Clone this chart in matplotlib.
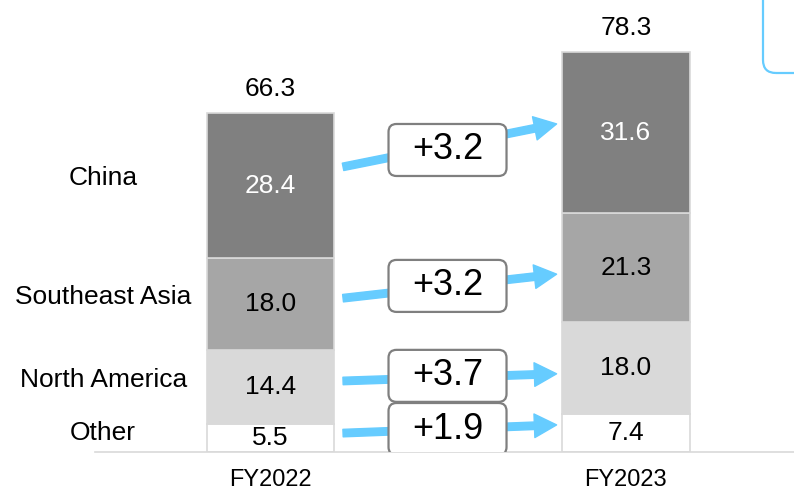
import numpy as np
import matplotlib
matplotlib.use("Agg")
import matplotlib.pyplot as plt
from matplotlib.patches import FancyBboxPatch, FancyArrowPatch
from matplotlib.transforms import ScaledTranslation

plt.rcParams['font.family'] = ['Liberation Sans', 'DejaVu Sans']

###Data (bottom to top)
years = ["FY2022", "FY2023"]
regions = ["Other", "North America", "Southeast Asia", "China"]
fy2022 = [5.5, 14.4, 18.0, 28.4]
fy2023 = [7.4, 18.0, 21.3, 31.6]
totals = [66.3, 78.3]
deltas = ["+1.9", "+3.7", "+3.2", "+3.2"]

###Layout of annotations (data units on y)
arrow_start_y = [3.7, 13.9, 30.1, 55.8]
arrow_end_y = [5.3, 15.3, 34.8, 64.2]
box_y = [4.5, 14.9, 32.5, 59.1]
label_y = [3.7, 14.1, 30.3, 53.6]

colors = ["#ffffff", "#d9d9d9", "#a6a6a6", "#808080"]
text_colors = ["black", "black", "black", "white"]
arrow_col = "#66ccff"

fig = plt.figure(figsize=(7.94, 4.91), dpi=100)
ax = fig.add_axes([95/794, 39/491, 699/794, 452/491])

x = np.arange(len(years))
width = 0.358
bottoms = np.zeros(2)
for i, reg in enumerate(regions):
	vals = np.array([fy2022[i], fy2023[i]])
	ax.bar(x, vals, width, bottom=bottoms, color=colors[i], edgecolor="#d9d9d9", linewidth=1.2, zorder=2)
	for j in range(2):
		ax.text(x[j], bottoms[j] + vals[j]/2, "%.1f" % vals[j], ha="center", va="center",
				fontsize=19, color=text_colors[i], zorder=3)
	bottoms += vals

for j in range(2):
	ax.text(x[j], totals[j], "%.1f" % totals[j], ha="center", va="bottom", fontsize=19,
			transform=ax.transData + ScaledTranslation(0, 0.12, fig.dpi_scale_trans))

###Region labels on the left
for i, reg in enumerate(regions):
	ax.text(-0.471, label_y[i], reg, ha="center", va="center", fontsize=19)

###Arrows and delta boxes
for i in range(len(regions)):
	arr = FancyArrowPatch((0.204, arrow_start_y[i]), (0.805, arrow_end_y[i]),
						  arrowstyle="simple,head_length=0.8,head_width=0.85,tail_width=0.27",
						  mutation_scale=20, color=arrow_col, shrinkA=0, shrinkB=0, zorder=4)
	ax.add_patch(arr)
	tr = fig.dpi_scale_trans + ScaledTranslation(0.498, box_y[i], ax.transData)
	box = FancyBboxPatch((-0.59, -0.26), 1.18, 0.52, boxstyle="round,pad=0,rounding_size=0.08",
						 facecolor="white", edgecolor="#7f7f7f", linewidth=1.6, transform=tr, zorder=5)
	ax.add_patch(box)
	ax.text(0.498, box_y[i], deltas[i], ha="center", va="center", fontsize=26, zorder=6)

ax.set_xlim(-0.494, 1.473)
ax.set_ylim(0, 88.45)
ax.set_xticks(x)
ax.set_xticklabels(years, fontsize=17)
ax.tick_params(axis="x", length=0, pad=12)
ax.set_yticks([])
for s in ["top", "right", "left"]:
	ax.spines[s].set_visible(False)
ax.spines["bottom"].set_color("#d9d9d9")
ax.spines["bottom"].set_linewidth(1.2)

###Partial callout box in top right corner
corner = FancyBboxPatch((7.63, 4.18), 1.0, 1.2, boxstyle="round,pad=0,rounding_size=0.13",
						facecolor="none", edgecolor=arrow_col, linewidth=1.6,
						transform=fig.dpi_scale_trans)
fig.add_artist(corner)

fig.savefig("out.png", dpi=100)
